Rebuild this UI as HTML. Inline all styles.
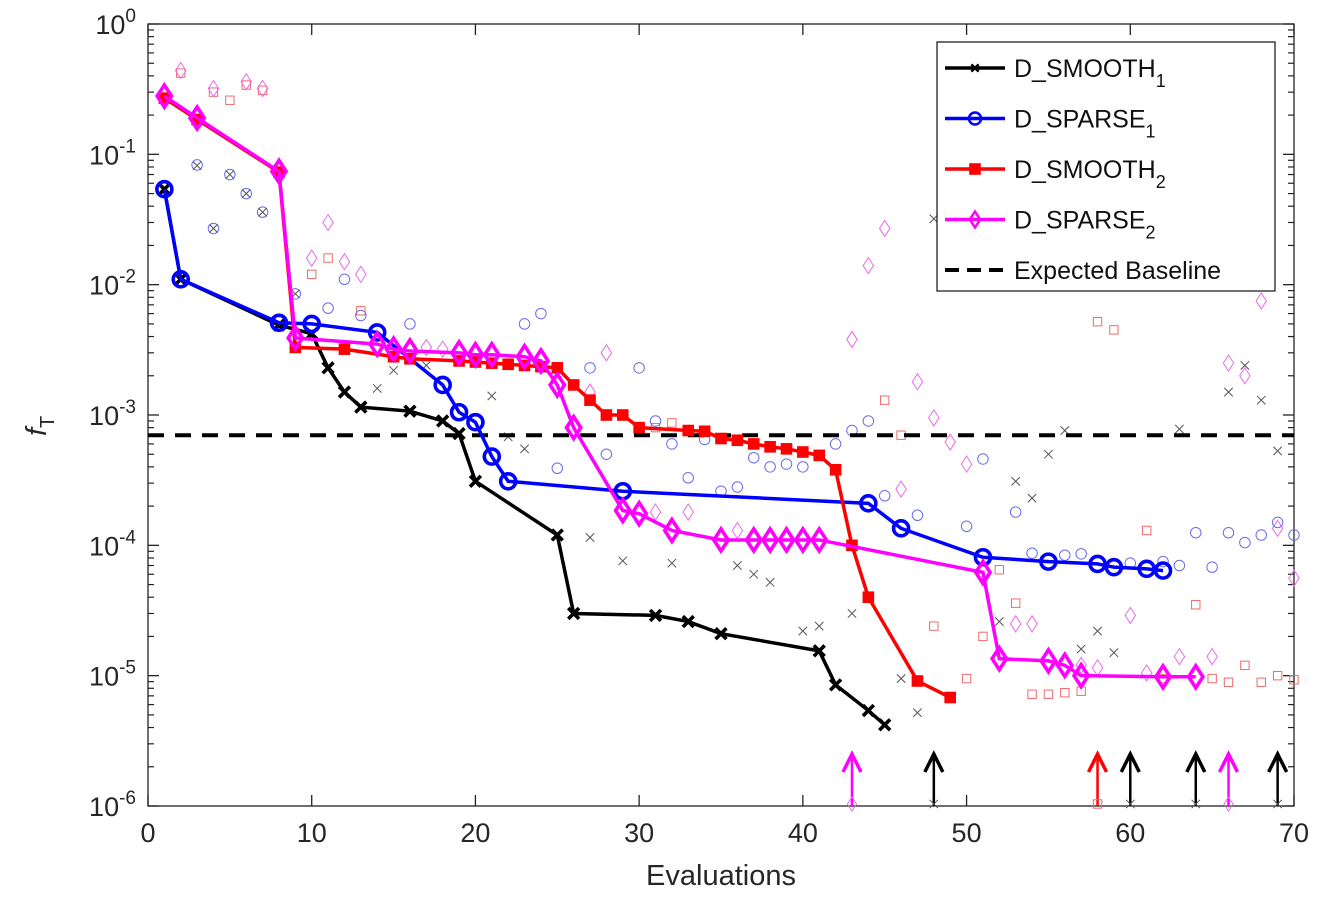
<!DOCTYPE html>
<html><head><meta charset="utf-8"><style>
body{margin:0;background:#fff;}
svg{font-family:"Liberation Sans",Helvetica,sans-serif;}
</style></head><body>
<svg id="chart" width="1326" height="902" xmlns="http://www.w3.org/2000/svg"></svg>
<script>
// ---- data ----
const smooth1X=[1,2,8,10,11,12,13,16,18,19,20,25,26,31,33,35,41,42,44,45];
const smooth1Y=[5.4e-2,1.1e-2,4.9e-3,4.2e-3,2.3e-3,1.5e-3,1.15e-3,1.07e-3,9e-4,7.2e-4,3.1e-4,1.2e-4,3.0e-5,2.9e-5,2.6e-5,2.1e-5,1.55e-5,8.5e-6,5.4e-6,4.2e-6];
const sparse1X=[1,2,8,10,14,18,19,20,21,22,29,44,46,51,55,58,59,61,62];
const sparse1Y=[5.4e-2,1.1e-2,5.1e-3,5e-3,4.3e-3,1.7e-3,1.05e-3,8.8e-4,4.8e-4,3.1e-4,2.6e-4,2.1e-4,1.35e-4,8.1e-5,7.5e-5,7.2e-5,6.8e-5,6.6e-5,6.4e-5];
const smooth2X=[1,3,8,9,12,15,16,19,20,21,22,23,24,25,26,27,28,29,30,33,34,35,36,37,38,39,40,41,42,43,44,47,49];
const smooth2Y=[2.7e-1,1.85e-1,7.3e-2,3.3e-3,3.2e-3,2.8e-3,2.7e-3,2.6e-3,2.55e-3,2.5e-3,2.45e-3,2.4e-3,2.35e-3,2.3e-3,1.7e-3,1.3e-3,1.0e-3,1.0e-3,8e-4,7.6e-4,7.5e-4,6.6e-4,6.4e-4,6e-4,5.7e-4,5.5e-4,5.2e-4,4.9e-4,3.8e-4,1e-4,4e-5,9.1e-6,6.8e-6];
const sparse2X=[1,3,8,9,14,15,16,19,20,21,23,24,25,26,29,30,32,35,37,38,39,40,41,51,52,55,56,57,62,64];
const sparse2Y=[2.8e-1,1.9e-1,7.4e-2,3.9e-3,3.5e-3,3.2e-3,3.1e-3,3.0e-3,2.9e-3,2.9e-3,2.8e-3,2.6e-3,1.7e-3,8e-4,1.85e-4,1.75e-4,1.3e-4,1.1e-4,1.1e-4,1.1e-4,1.1e-4,1.1e-4,1.1e-4,6.2e-5,1.35e-5,1.3e-5,1.2e-5,1.0e-5,9.8e-6,9.8e-6];
const baseline=7e-4;
const scatSmooth1=[[3,0.082],[4,0.027],[5,0.07],[6,0.05],[7,0.036],[9,0.0085],[14,0.0016],[15,0.0022],[17,0.0024],[21,0.0014],[22,0.00068],[23,0.00055],[27,0.000115],[29,7.6e-5],[32,7.3e-5],[36,7e-5],[37,6e-5],[38,5.2e-5],[40,2.2e-5],[41,2.4e-5],[43,3e-5],[46,9.5e-6],[47,5.2e-6],[48,0.032],[52,2.6e-5],[53,3.1e-4],[54,2.3e-4],[55,5e-4],[56,7.6e-4],[57,1.6e-5],[58,2.2e-5],[59,1.5e-5],[63,7.8e-4],[66,1.5e-3],[67,2.4e-3],[68,1.3e-3],[69,5.3e-4]];
const scatSparse1=[[3,0.083],[4,0.027],[5,0.07],[6,0.05],[7,0.036],[9,0.0085],[11,0.0066],[12,0.011],[13,0.0058],[16,0.005],[23,0.005],[24,0.006],[25,3.9e-4],[27,2.3e-3],[28,5e-4],[30,2.3e-3],[31,9e-4],[32,6e-4],[33,3.3e-4],[34,6.5e-4],[35,2.6e-4],[36,2.8e-4],[37,4.7e-4],[38,4e-4],[39,4.2e-4],[40,4e-4],[42,6e-4],[43,7.6e-4],[44,9e-4],[45,2.4e-4],[47,1.7e-4],[50,1.4e-4],[51,4.6e-4],[53,1.8e-4],[54,8.7e-5],[56,8.4e-5],[57,8.6e-5],[60,7.3e-5],[62,7.5e-5],[63,7e-5],[64,1.25e-4],[65,6.8e-5],[66,1.25e-4],[67,1.05e-4],[68,1.2e-4],[69,1.5e-4],[70,1.2e-4]];
const scatSmooth2=[[2,0.42],[4,0.3],[5,0.26],[6,0.34],[7,0.31],[10,0.012],[11,0.016],[13,0.0063],[31,8e-4],[32,8.7e-4],[45,1.3e-3],[46,7e-4],[48,2.4e-5],[50,9.5e-6],[51,2e-5],[52,6.5e-5],[53,3.6e-5],[54,7.2e-6],[55,7.2e-6],[56,7.4e-6],[57,7.6e-6],[58,5.2e-3],[59,4.5e-3],[61,1.3e-4],[62,9.5e-6],[64,3.5e-5],[65,9.5e-6],[66,8.9e-6],[67,1.2e-5],[68,8.9e-6],[69,1e-5],[70,9.3e-6]];
const scatSparse2=[[2,0.44],[4,0.32],[6,0.36],[7,0.32],[10,0.016],[11,0.03],[12,0.015],[13,0.012],[17,3.3e-3],[18,3.2e-3],[27,1.5e-3],[28,3e-3],[31,1.8e-4],[33,1.8e-4],[36,1.3e-4],[43,3.8e-3],[44,0.014],[45,0.027],[46,2.7e-4],[47,1.8e-3],[48,9.5e-4],[49,6.2e-4],[50,4.2e-4],[53,2.5e-5],[54,2.5e-5],[57,1.2e-5],[58,1.15e-5],[60,2.9e-5],[61,1.05e-5],[63,1.4e-5],[65,1.4e-5],[66,2.5e-3],[67,2e-3],[68,7.5e-3],[69,1.35e-4],[70,5.6e-5]];
const arrowX=[43,48,58,60,64,66,69];
const arrowSeries=['sparse2','smooth1','smooth2','smooth1','smooth1','sparse2','smooth1'];
const xTicks=[0,10,20,30,40,50,60,70];
const yExps=[0,-1,-2,-3,-4,-5,-6];

// ---- scales ----
const X0=148,X1=1294,Y0=24,Y1=806;
const sx=v=>X0+(v-0)/70*(X1-X0);
const sy=v=>Y0+(-Math.log10(v))/6*(Y1-Y0);
const NS='http://www.w3.org/2000/svg';
const svg=document.getElementById('chart');
function mk(tag,attrs,parent){const e=document.createElementNS(NS,tag);for(const k in attrs)e.setAttribute(k,attrs[k]);(parent||svg).appendChild(e);return e;}
const COL={smooth1:'#000',sparse1:'#0000ff',smooth2:'#ff0000',sparse2:'#ff00ff'};
const FAINT={smooth1:'#555',sparse1:'#6b6bee',smooth2:'#ee6b6b',sparse2:'#e86be8'};

function marker(type,x,y,col,size,sw,fill,g){
  let e;
  if(type==='x'){const s=size*0.6;e=mk('path',{d:`M${x-s},${y-s}L${x+s},${y+s}M${x-s},${y+s}L${x+s},${y-s}`,stroke:col,'stroke-width':sw,fill:'none'},g);}
  else if(type==='o'){e=mk('circle',{cx:x,cy:y,r:size*0.75,stroke:col,'stroke-width':sw,fill:'none'},g);}
  else if(type==='s'){const s=size*0.6;e=mk('rect',{x:x-s,y:y-s,width:2*s,height:2*s,stroke:col,'stroke-width':sw,fill:fill||'none'},g);}
  else {const s=size;e=mk('path',{d:`M${x},${y-s}L${x+s*0.65},${y}L${x},${y+s}L${x-s*0.65},${y}Z`,stroke:col,'stroke-width':sw,fill:'none'},g);}
  return e;
}
const MT={smooth1:'x',sparse1:'o',smooth2:'s',sparse2:'d'};

// axes box
const ax=mk('g',{});


mk('rect',{x:X0,y:Y0,width:X1-X0,height:Y1-Y0,fill:'none',stroke:'#222','stroke-width':1.3},ax);
xTicks.forEach(t=>{
  const x=sx(t);
  mk('line',{x1:x,x2:x,y1:Y1,y2:Y1-11,stroke:'#222','stroke-width':1.3},ax);
  mk('line',{x1:x,x2:x,y1:Y0,y2:Y0+11,stroke:'#222','stroke-width':1.3},ax);
  const tx=mk('text',{x:x,y:Y1+36,'text-anchor':'middle','font-size':27,fill:'#262626'},ax);
  tx.textContent=t;
  
  
});
yExps.forEach(e=>{
  const y=sy(Math.pow(10,e));
  mk('line',{x1:X0,x2:X0+11,y1:y,y2:y,stroke:'#222','stroke-width':1.3},ax);
  mk('line',{x1:X1,x2:X1-11,y1:y,y2:y,stroke:'#222','stroke-width':1.3},ax);
  if(e>-6){for(let m=2;m<10;m++){const yy=sy(m*Math.pow(10,e-1));
    mk('line',{x1:X0,x2:X0+6,y1:yy,y2:yy,stroke:'#222','stroke-width':1.2},ax);
    mk('line',{x1:X1,x2:X1-6,y1:yy,y2:yy,stroke:'#222','stroke-width':1.2},ax);}}
  const tx=mk('text',{x:X0-12,y:y+10,'text-anchor':'end','font-size':27,fill:'#262626'},ax);
  
  
  tx.innerHTML='10<tspan dy="-12" font-size="19">'+e+'</tspan>';
});
const xl=mk('text',{x:(X0+X1)/2,y:885,'text-anchor':'middle','font-size':29,fill:'#262626'});
xl.textContent='Evaluations';


const yl=mk('text',{x:0,y:0,'font-size':29,fill:'#262626','font-style':'italic',transform:'translate(46,436) rotate(-90)'});
yl.innerHTML='f<tspan dy="8" font-size="20" font-style="normal">T</tspan>';



const scat={smooth1:scatSmooth1,sparse1:scatSparse1,smooth2:scatSmooth2,sparse2:scatSparse2};
['smooth2','sparse2','sparse1','smooth1'].forEach(k=>{
  const g=mk('g',{});
  
  
  scat[k].forEach(p=>marker(MT[k],sx(p[0]),sy(p[1]),FAINT[k],k==='sparse2'?8:7,1,null,g));
});

const bl=mk('line',{x1:X0,x2:X1,y1:sy(baseline),y2:sy(baseline),stroke:'#000','stroke-width':4,'stroke-dasharray':'16,11'});



const LX={smooth1:smooth1X,sparse1:sparse1X,smooth2:smooth2X,sparse2:sparse2X};
const LY={smooth1:smooth1Y,sparse1:sparse1Y,smooth2:smooth2Y,sparse2:sparse2Y};
['smooth1','sparse1','smooth2','sparse2'].forEach(k=>{
  const g=mk('g',{});
  
  
  const pts=LX[k].map((x,i)=>sx(x)+','+sy(LY[k][i])).join(' ');
  mk('polyline',{points:pts,fill:'none',stroke:COL[k],'stroke-width':3.5},g);
  LX[k].forEach((x,i)=>marker(MT[k],sx(x),sy(LY[k][i]),COL[k],k==='sparse2'?11:(k==='sparse1'?10:(k==='smooth1'?9:8)),k==='smooth2'?2:3.6,k==='smooth2'?COL[k]:null,g));
});

arrowX.forEach((a,i)=>{
  const k=arrowSeries[i];const x=sx(a);const g=mk('g',{});
  
  
  mk('line',{x1:x,x2:x,y1:Y1,y2:Y1-48,stroke:COL[k],'stroke-width':2.5},g);
  mk('path',{d:`M${x-9},${Y1-34}L${x},${Y1-52}L${x+9},${Y1-34}`,stroke:COL[k],'stroke-width':3.5,fill:'none'},g);
  marker(MT[k],x,Y1-2,FAINT[k],7,1,null,g);
});

const lg=mk('g',{});


mk('rect',{x:937,y:42,width:338,height:249,fill:'#fff',stroke:'#222','stroke-width':1.3},lg);
const names=[['smooth1','D_SMOOTH','1'],['sparse1','D_SPARSE','1'],['smooth2','D_SMOOTH','2'],['sparse2','D_SPARSE','2'],['base','Expected Baseline','']];
names.forEach((n,i)=>{
  const y=68+i*50.5;const e=mk('g',{},lg);
  
  
  if(n[0]==='base'){mk('line',{x1:945,x2:1005,y1:y,y2:y,stroke:'#000','stroke-width':4,'stroke-dasharray':'14,8'},e);}
  else{mk('line',{x1:945,x2:1005,y1:y,y2:y,stroke:COL[n[0]],'stroke-width':3.5},e);
    marker(MT[n[0]],975,y,COL[n[0]],n[0]==='smooth1'?6:8,n[0]==='smooth2'?2:2.5,n[0]==='smooth2'?COL[n[0]]:null,e);}
  const t=mk('text',{x:1014,y:y+9,'font-size':25,fill:'#111'},e);
  t.innerHTML=n[1]+(n[2]?'<tspan dy="10" font-size="18">'+n[2]+'</tspan>':'');
});
</script>
</body></html>
